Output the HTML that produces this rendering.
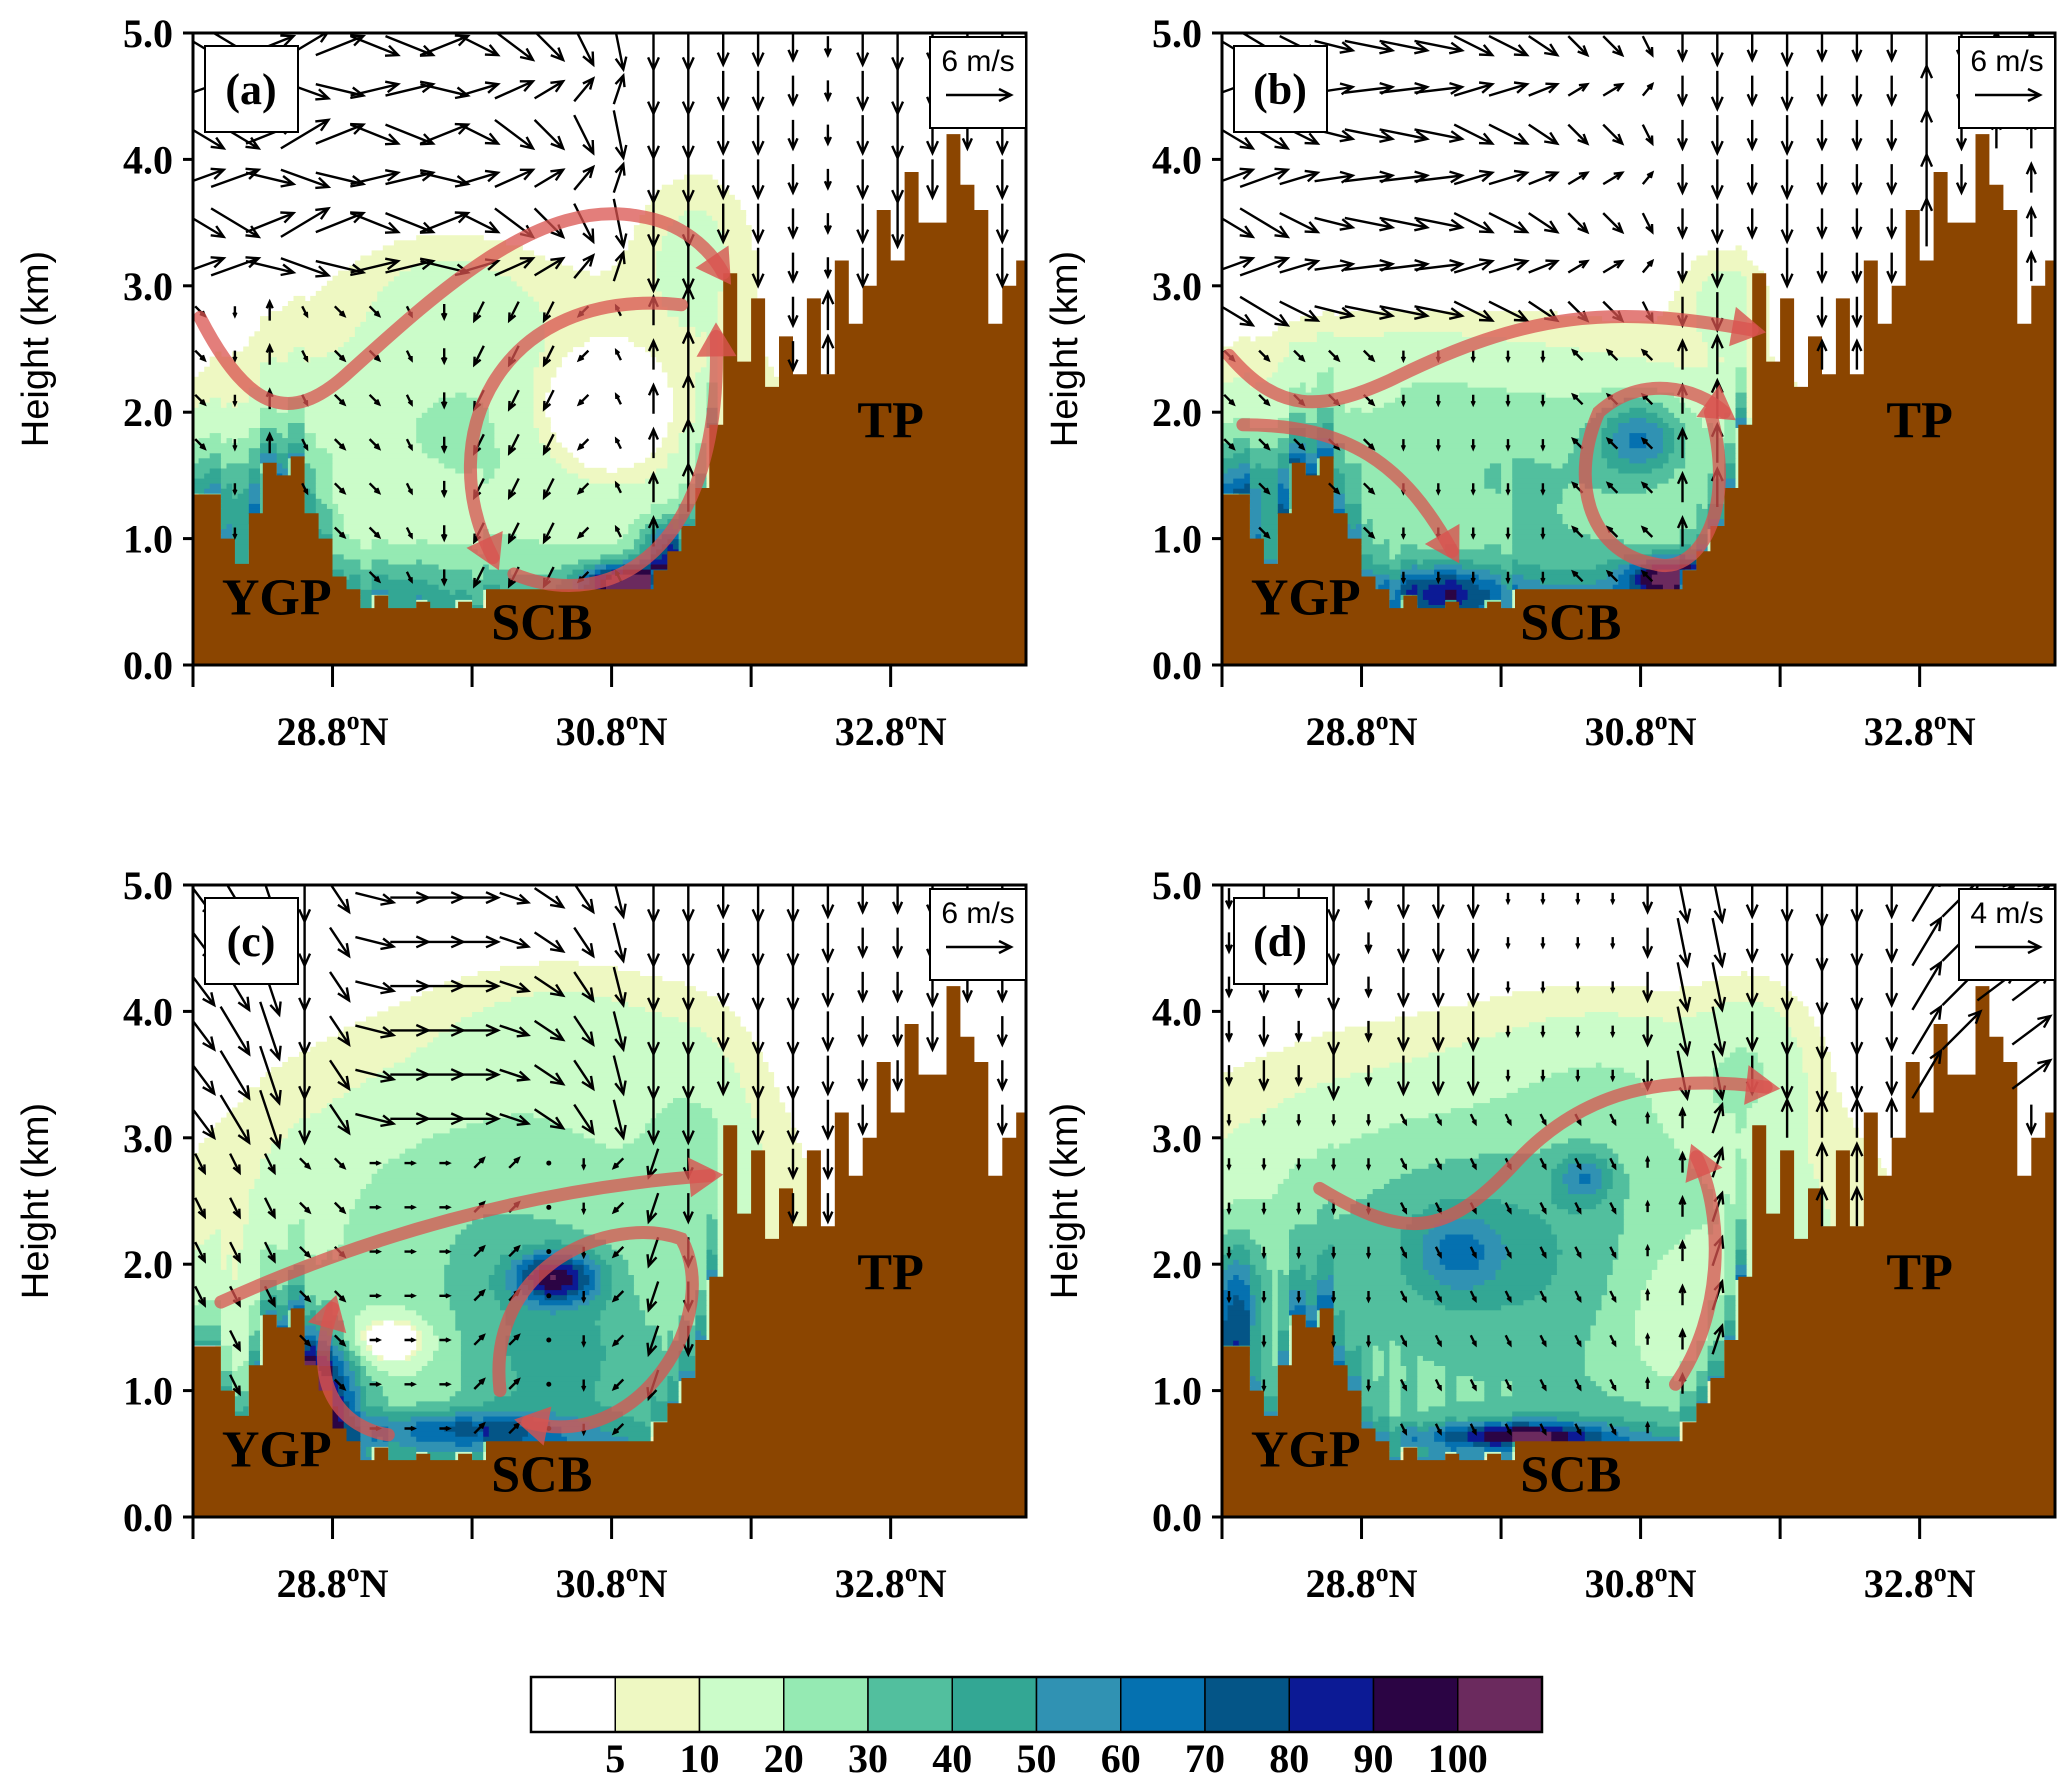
<!DOCTYPE html>
<html><head><meta charset="utf-8">
<style>
html,body{margin:0;padding:0;background:#fff;}
svg{display:block;}
.tk{font-family:"Liberation Serif",serif;font-weight:bold;font-size:40px;fill:#000;}
.yt{font-family:"Liberation Sans",sans-serif;font-size:38px;fill:#000;}
.rg{font-family:"Liberation Serif",serif;font-weight:bold;font-size:52px;fill:#000;}
.lb{font-family:"Liberation Serif",serif;font-weight:bold;font-size:44px;fill:#000;}
.ref{font-family:"Liberation Sans",sans-serif;font-size:30px;fill:#000;}
</style></head>
<body>
<svg id="fig" width="2067" height="1792" viewBox="0 0 2067 1792"></svg>
<script>
// ---- data ----
const levels = [5,10,20,30,40,50,60,70,80,90,100];
const colors = ["#ffffff","#eef8c2","#cbfcc9","#95eab3","#52bf9e","#33a794","#3092b3","#0571b0","#045587","#0c1a95","#2b0444","#6b2a5e"];
const terrainLat = [27.8,27.9,28.0,28.1,28.2,28.3,28.4,28.5,28.6,28.7,28.8,28.9,29.0,29.1,29.2,29.3,29.4,29.5,29.6,29.7,29.8,29.9,30.0,30.1,30.2,30.3,30.4,30.5,30.6,30.7,30.8,30.9,31.0,31.1,31.2,31.3,31.4,31.5,31.6,31.7,31.8,31.9,32.0,32.1,32.2,32.3,32.4,32.5,32.6,32.7,32.8,32.9,33.0,33.1,33.2,33.3,33.4,33.5,33.6,33.7];
const terrainH = [1.35,1.35,1.0,0.8,1.2,1.6,1.5,1.65,1.2,1.0,0.7,0.6,0.45,0.55,0.45,0.45,0.5,0.45,0.45,0.5,0.45,0.6,0.6,0.6,0.6,0.6,0.6,0.6,0.6,0.6,0.6,0.6,0.6,0.75,0.9,1.1,1.4,1.9,3.1,2.4,2.9,2.2,2.6,2.3,2.9,2.3,3.2,2.7,3.0,3.6,3.2,3.9,3.5,3.5,4.2,3.8,3.6,2.7,3.0,3.2];
const groundAmp = [32,45,40,45];
// concentration blobs per panel: [lat, z, sx, sz, amplitude]
const blobsA = [[30.0,1.9,1.7,1.0,22],[30.7,2.0,0.5,0.5,-28],[31.4,3.3,0.4,0.6,12],[29.3,0.6,0.6,0.3,20],[28.2,1.3,0.45,0.5,30],[30.9,0.65,0.3,0.15,90],[31.2,0.9,0.2,0.25,50],[29.6,3.0,0.6,0.4,8]];
const blobsB = [[29.8,1.6,1.9,0.9,28],[30.8,1.8,0.3,0.3,40],[29.4,0.6,0.4,0.2,50],[31.0,0.7,0.3,0.15,70],[28.1,1.4,0.4,0.4,25],[31.4,2.9,0.3,0.4,12],[29.0,2.4,0.8,0.3,6]];
const blobsC = [[30.0,2.2,1.7,1.4,30],[30.4,1.9,0.3,0.2,65],[30.5,1.3,0.8,0.6,20],[29.2,1.4,0.3,0.2,-30],[28.7,1.0,0.3,0.5,70],[29.7,0.7,0.7,0.15,40],[30.5,3.8,0.8,0.5,10],[31.4,3.0,0.4,0.8,12]];
const blobsD = [[29.8,2.1,2.0,1.3,42],[31.0,1.7,0.5,0.7,-14],[29.5,2.1,0.3,0.3,25],[30.4,2.7,0.2,0.2,30],[27.9,1.7,0.2,0.5,40],[29.9,0.65,0.6,0.1,60],[30.6,3.6,0.8,0.5,10],[31.6,3.6,0.4,0.6,14]];
const windLat = [27.85,28.1,28.35,28.6,28.85,29.1,29.35,29.6,29.85,30.1,30.35,30.6,30.85,31.1,31.35,31.6,31.85,32.1,32.35,32.6,32.85,33.1,33.35,33.6];
const windZ = [0.7,1.05,1.4,1.75,2.1,2.45,2.8,3.15,3.5,3.85,4.2,4.55,4.9];
const uUpA = [5,5,5,5,5,5,5,5,4,4,3,2,1,0,0,0,0,0,0,0,0,0,0,0];
const wUpA = [-3,-3,2,3,2,-2,-2,2,-2,-3,-3,-4,-5,-5,-5,-4,-4,-3,-2,-4,-5,-4,-3,-4];
const uLoA = [1,0,0,0.5,1,1,0.5,0,-1,-1,-1,-1,-0.5,0,0,0,0,0,0,0,0,0,0,0];
const wLoA = [-1,-1,2,-1,-1,-1,-1,-1.5,-2,-2,-2,-1,1,3,5,4,-4,-3,4,4,-3,3,-3,3];
const uUpB = [5,5,4,4,5,5,5,4,4,3,2,2,1,0,0,0,0,0,0,0,0,0,0,0];
const wUpB = [-3,-3,-2,-1,-1,-1,-1,-2,-2,-2,-2,-2,-2,-3,-4,-3,-4,-3,-3,-3,5,-3,3,3];
const uLoB = [1,1,1,1,1,0,0,0,0,0,-1,-1,-1,0,0,0,0,0,0,0,0,0,0,0];
const wLoB = [-1,-1,-1,-1,-1,-1,-1,-1,-1,-1,1,1,1,3,4,3,-3,3,3,3,3,3,3,3];
const uUpC = [3,3,2,0,2,4,4,4,4,3,3,2,1,0,0,0,0,0,0,0,0,0,0,0];
const wUpC = [-4,-5,-6,-5,-3,-1,0,0,0,-1,-2,-3,-4,-5,-5,-4,-5,-5,-4,-3,-3,-4,-3,-3];
const uLoC = [1,1,1,1,1,1,1,1,1,1,0,0,-1,-1,0,0,0,0,0,0,0,0,0,0];
const wLoC = [-2,-2,-2,-1,-1,0,0,0,1,1,0,-1,-1,-3,-3,-3,-3,-3,-3,-3,-3,-3,-3,-3];
const uUpD = [0,0,0,0,0,0,0,0,0,0,0,0,0,1,1,0,0,0,0,0,3,4,4,4];
const wUpD = [-2,-3,-2,-5,-2,-4,-4,-4,-1,-1,-1,-1,-3,-5,-5,-4,-5,-6,-5,-4,5,4,3,3];
const uLoD = [0,0,0,0,0,0.5,0.5,0.5,0.5,0.5,0.5,0.5,0,0,1,0,0,0,0,0,0,0,0,0];
const wLoD = [-1,-1,-1,-1,-1,-1,-1,-1,-1,-1,-1,-1,1,2,3,3,4,4,4,4,4,3,-3,-3];
const layerTop = [3.0,2.6,2.8,3.4];
const refSpeed = ["6 m/s","6 m/s","6 m/s","4 m/s"];
const xTickVals = [27.8,28.8,29.8,30.8,31.8,32.8];
const xLabelVals = [28.8,30.8,32.8];
const yTickVals = [0,1,2,3,4,5];
// ---- drawing ----
const NS="http://www.w3.org/2000/svg";
const svg=document.getElementById('fig');
function mk(tag,attrs,parent){const e=document.createElementNS(NS,tag);for(const k in attrs)e.setAttribute(k,attrs[k]);(parent||svg).appendChild(e);return e;}
const LAT0=27.8,LAT1=33.77,Z1=5;
const panels=[
 {id:'a',L:193,R:1026,T:33,B:665,blobs:blobsA,uU:uUpA,wU:wUpA,uL:uLoA,wL:wLoA},
 {id:'b',L:1222,R:2055,T:33,B:665,blobs:blobsB,uU:uUpB,wU:wUpB,uL:uLoB,wL:wLoB},
 {id:'c',L:193,R:1026,T:885,B:1517,blobs:blobsC,uU:uUpC,wU:wUpC,uL:uLoC,wL:wLoC},
 {id:'d',L:1222,R:2055,T:885,B:1517,blobs:blobsD,uU:uUpD,wU:wUpD,uL:uLoD,wL:wLoD}];
function terrainAt(lat){let i=Math.floor((lat-27.8)/0.1+1e-6);i=Math.max(0,Math.min(terrainH.length-1,i));return terrainH[i];}
function levelIdx(v){let k=0;for(let i=0;i<levels.length;i++)if(v>=levels[i])k=i+1;return k;}
const arrowPaths={
 a:[["M27.85,2.75 C28.2,2.0 28.5,1.9 28.9,2.3 C29.6,3.0 30.3,3.7 31.0,3.55 C31.3,3.5 31.5,3.3 31.6,3.1"],
    ["M31.3,2.85 C30.0,3.0 29.5,1.8 29.95,0.85","M30.1,0.72 C30.8,0.4 31.6,0.9 31.55,2.6"]],
 b:[["M27.85,2.45 C28.2,2.0 28.5,2.0 29.0,2.25 C30.0,2.8 30.6,2.85 31.6,2.65"],
    ["M27.95,1.9 C28.7,1.9 29.1,1.6 29.45,0.9","M31.3,2.0 C31.5,1.2 31.2,0.7 30.9,0.8 C30.4,0.9 30.3,1.5 30.5,2.0 C30.8,2.3 31.2,2.2 31.4,2.0"]],
 c:[["M28.0,1.7 C29.0,2.2 30.2,2.6 31.5,2.7"],
    ["M30.0,1.0 C29.9,2.0 30.8,2.4 31.3,2.2 C31.6,1.6 31.0,0.5 30.2,0.75","M29.2,0.65 C28.9,0.7 28.6,1.0 28.8,1.65"]],
 d:[["M28.5,2.6 C29.1,2.2 29.4,2.2 29.9,2.8 C30.4,3.4 31.0,3.5 31.7,3.4"],
    ["M31.05,1.05 C31.4,1.6 31.4,2.4 31.2,2.85"]]};
const defs=mk('defs',{});
panels.forEach((p,pi)=>{
 const cp=mk('clipPath',{id:'clip-'+p.id},defs);
 mk('rect',{x:p.L,y:p.T,width:p.R-p.L,height:p.B-p.T},cp);
 const g=mk('g',{});
 
 
 const X=lat=>p.L+(lat-LAT0)/(LAT1-LAT0)*(p.R-p.L);
 const Y=z=>p.B-z/Z1*(p.B-p.T);
 const inner=mk('g',{'clip-path':'url(#clip-'+p.id+')'},g);
 const fg=mk('g',{},inner);
 
 
 const dl=0.04,dz=0.04;
 for(let z=0;z<Z1;z+=dz){
  let runStart=null,runK=0;
  const flush=(end)=>{if(runStart!==null&&runK>0){mk('rect',{x:X(runStart).toFixed(1),y:Y(z+dz).toFixed(1),width:(X(end)-X(runStart)+0.6).toFixed(1),height:(Y(z)-Y(z+dz)+0.6).toFixed(1),fill:colors[runK]},fg);}};
  for(let lat=LAT0;lat<LAT1;lat+=dl){
   const lc=lat+dl/2,zc=z+dz/2;
   let v=0;p.blobs.forEach(b=>{v+=b[4]*Math.exp(-Math.pow((lc-b[0])/b[2],2)-Math.pow((zc-b[1])/b[3],2));});
   if(lc<31.55){const hg=zc-terrainAt(lc);if(hg>0&&v>4)v+=groundAmp[pi]*Math.exp(-hg/0.35);}
   const k=levelIdx(v);
   if(runStart===null||k!==runK){flush(lat);runStart=lat;runK=k;}
  }
  flush(LAT1);
 }
 let d='M'+X(LAT0)+','+Y(0);
 terrainLat.forEach((lat,i)=>{const x0=X(lat),x1=X(Math.min(LAT1,lat+0.1));d+=' L'+x0.toFixed(1)+','+Y(terrainH[i]).toFixed(1)+' L'+x1.toFixed(1)+','+Y(terrainH[i]).toFixed(1);});
 d+=' L'+X(LAT1)+','+Y(0)+' Z';
 const tp=mk('path',{d:d,fill:'#8b4500'},inner);
 
 
 const wg=mk('g',{stroke:'#000','stroke-width':2.4,fill:'none'},inner);
 
 
 const sc=9.5;
 windLat.forEach((lat,i)=>{windZ.forEach((z,j)=>{
  if(z<terrainAt(lat)+0.1)return;
  const up=z>layerTop[pi];
  let u=up?p.uU[i]:p.uL[i], w=up?p.wU[i]:p.wL[i];
  if(up&&(pi<2)&&j%2===1&&lat<31)w=-w*0.6;
  const x0=X(lat)-u*sc/2,y0=Y(z)+w*sc/2,x1=x0+u*sc,y1=y0-w*sc;
  const len=Math.hypot(x1-x0,y1-y0);
  if(len<2){mk('circle',{cx:x0,cy:y0,r:2.5,fill:'#000',stroke:'none'},wg);return;}
  const ux=(x1-x0)/len,uy=(y1-y0)/len,h=Math.min(12,len*0.35);
  mk('path',{d:`M${x0.toFixed(1)},${y0.toFixed(1)} L${x1.toFixed(1)},${y1.toFixed(1)} M${(x1-h*ux-h*0.45*uy).toFixed(1)},${(y1-h*uy+h*0.45*ux).toFixed(1)} L${x1.toFixed(1)},${y1.toFixed(1)} L${(x1-h*ux+h*0.45*uy).toFixed(1)},${(y1-h*uy-h*0.45*ux).toFixed(1)}`},wg);
 });});
 const rg=mk('g',{stroke:'#d9534f','stroke-width':13,fill:'none','stroke-opacity':0.75,'stroke-linecap':'round'},g);
 
 
 arrowPaths[p.id].flat().forEach(s=>{
  const conv=s.replace(/(-?[\d.]+),(-?[\d.]+)/g,(m,a,b)=>X(+a).toFixed(1)+','+Y(+b).toFixed(1));
  const path=mk('path',{d:conv},rg);
  const L=path.getTotalLength();const e=path.getPointAtLength(L),q=path.getPointAtLength(L-20);
  const ux=(e.x-q.x)/20,uy=(e.y-q.y)/20;
  const tipx=e.x+ux*14,tipy=e.y+uy*14;
  mk('polygon',{points:`${tipx},${tipy} ${e.x-ux*20-uy*20},${e.y-uy*20+ux*20} ${e.x-ux*20+uy*20},${e.y-uy*20-ux*20}`,fill:'#d9534f','fill-opacity':0.8,stroke:'none'},g);
 });
 const fr=mk('rect',{x:p.L,y:p.T,width:p.R-p.L,height:p.B-p.T,fill:'none',stroke:'#000','stroke-width':3},g);
 
 
 yTickVals.forEach(v=>{
  mk('line',{x1:p.L-10,x2:p.L,y1:Y(v),y2:Y(v),stroke:'#000','stroke-width':3},g);
  const t=mk('text',{x:p.L-20,y:Y(v)+14,'text-anchor':'end',class:'tk'},g);t.textContent=v.toFixed(1);
  
  
 });
 xTickVals.forEach(v=>{mk('line',{x1:X(v),x2:X(v),y1:p.B,y2:p.B+22,stroke:'#000','stroke-width':3},g);});
 xLabelVals.forEach(v=>{
  const t=mk('text',{x:X(v),y:p.B+80,'text-anchor':'middle',class:'tk'},g);
  
  
  const a=mk('tspan',{},t);a.textContent=v.toFixed(1);
  const o=mk('tspan',{dy:-16,'font-size':26},t);o.textContent='o';
  const n=mk('tspan',{dy:16},t);n.textContent='N';
 });
 const yt=mk('text',{x:0,y:0,'text-anchor':'middle',class:'yt',transform:`translate(${p.L-145},${(p.T+p.B)/2}) rotate(-90)`},g);
 yt.textContent='Height (km)';
 
 
 mk('rect',{x:p.L+12,y:p.T+13,width:93,height:86,fill:'#fff',stroke:'#000','stroke-width':2},g);
 const pl=mk('text',{x:p.L+58,y:p.T+71,'text-anchor':'middle',class:'lb'},g);pl.textContent='('+p.id+')';
 
 
 mk('rect',{x:p.R-96,y:p.T+4,width:96,height:91,fill:'#fff',stroke:'#000','stroke-width':2},g);
 const rt=mk('text',{x:p.R-48,y:p.T+38,'text-anchor':'middle',class:'ref'},g);rt.textContent=refSpeed[pi];
 
 
 mk('path',{d:`M${p.R-80},${p.T+62} L${p.R-15},${p.T+62} M${p.R-27},${p.T+56} L${p.R-15},${p.T+62} L${p.R-27},${p.T+68}`,stroke:'#000','stroke-width':2.5,fill:'none'},g);
 [['YGP',28.4,0.4],['SCB',30.3,0.2],['TP',32.8,1.8]].forEach(r=>{
  const t=mk('text',{x:X(r[1]),y:Y(r[2]),'text-anchor':'middle',class:'rg'},g);t.textContent=r[0];
  
  
 });
});
const cb=mk('g',{});


const cbL=531,cbW=84.25,cbT=1677,cbH=55;
colors.forEach((c,i)=>{mk('rect',{x:cbL+i*cbW,y:cbT,width:cbW,height:cbH,fill:c,stroke:'#000','stroke-width':1.5},cb);});
mk('rect',{x:cbL,y:cbT,width:cbW*12,height:cbH,fill:'none',stroke:'#000','stroke-width':2.5},cb);
levels.forEach((v,i)=>{const t=mk('text',{x:cbL+(i+1)*cbW,y:1772,'text-anchor':'middle',class:'tk'},cb);t.textContent=v;
 
 });
</script>
</body></html>
